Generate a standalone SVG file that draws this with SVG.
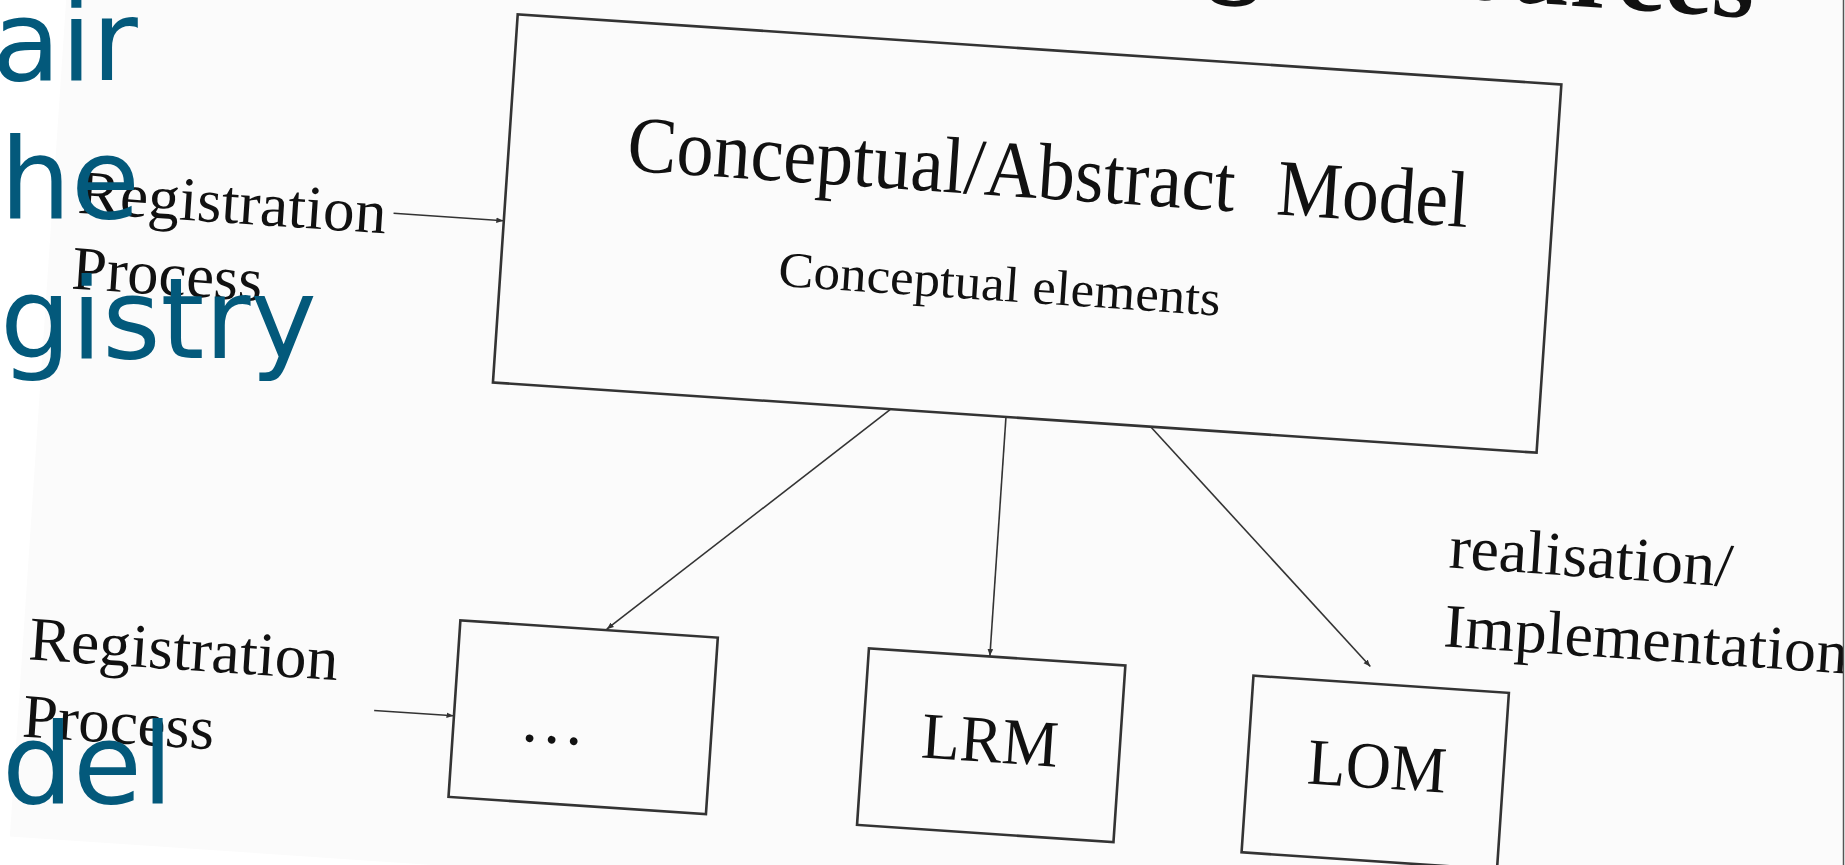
<svg xmlns="http://www.w3.org/2000/svg" width="1845" height="865" viewBox="0 0 1845 865">
  <defs>
    <style>
      .serif { font-family: "Liberation Serif", "Times New Roman", serif; fill: #111; }
      .box { fill: none; stroke: #333; stroke-width: 2.6; }
      .link { fill: none; stroke: #333; stroke-width: 1.6; }
      .overlay { font-family: "DejaVu Sans", "Open Sans", sans-serif; font-size: 112px; fill: #03597b; }
    </style>
    <marker id="arrow" viewBox="0 0 10 10" refX="10" refY="5" markerWidth="7" markerHeight="7" markerUnits="userSpaceOnUse" orient="auto">
      <path d="M0,1 L10,5 L0,9 z" fill="#333"/>
    </marker>
    <clipPath id="page">
      <rect x="0" y="0" width="1843" height="865"/>
    </clipPath>
  </defs>

  <rect x="0" y="0" width="1845" height="865" fill="#ffffff"/>

  <g clip-path="url(#page)">
    <g transform="rotate(3.85)">
      <!-- scanned sheet -->
      <rect x="66" y="-300" width="2000" height="1134" fill="#fbfbfb"/>

      <!-- slide heading, mostly above the visible area -->
      <text class="serif" x="1750" y="-100" font-size="108" font-weight="bold" text-anchor="end">Learning Resources</text>

      <g id="connectors">
        <line class="link" x1="407" y1="186.4" x2="517" y2="186.4" marker-end="url(#arrow)"/>
        <line class="link" x1="421" y1="683.7" x2="500.5" y2="683.7" marker-end="url(#arrow)"/>
        <line class="link" x1="915.6" y1="349" x2="647.6" y2="587" marker-end="url(#arrow)"/>
        <line class="link" x1="1031.7" y1="349" x2="1031.7" y2="588" marker-end="url(#arrow)"/>
        <line class="link" x1="1177.2" y1="349" x2="1412" y2="573" marker-end="url(#arrow)"/>
      </g>

      <g id="conceptual-model">
        <rect class="box" x="517.5" y="-20.5" width="1046" height="369"/>
        <text class="serif" font-size="80" y="128">
          <tspan x="636" textLength="609" lengthAdjust="spacingAndGlyphs">Conceptual/Abstract</tspan>
          <tspan x="1287" textLength="192" lengthAdjust="spacingAndGlyphs">Model</tspan>
        </text>
        <text class="serif" font-size="50" x="795" y="233" textLength="443" lengthAdjust="spacingAndGlyphs">Conceptual elements</text>
      </g>

      <g id="registration-top">
        <text class="serif" font-size="62">
          <tspan x="91" y="207" textLength="309" lengthAdjust="spacingAndGlyphs">Registration</tspan>
          <tspan x="90" y="283" textLength="191" lengthAdjust="spacingAndGlyphs">Process</tspan>
        </text>
      </g>

      <g id="registration-bottom">
        <text class="serif" font-size="62">
          <tspan x="72" y="656" textLength="310" lengthAdjust="spacingAndGlyphs">Registration</tspan>
          <tspan x="71" y="733.5" textLength="192" lengthAdjust="spacingAndGlyphs">Process</tspan>
        </text>
      </g>

      <g id="other-model">
        <rect class="box" x="501" y="588" width="258" height="177"/>
        <text class="serif" font-size="66" x="600" y="704" text-anchor="middle">…</text>
      </g>

      <g id="lrm">
        <rect class="box" x="910.5" y="588.5" width="257" height="177"/>
        <text class="serif" font-size="66" x="969" y="694" textLength="137" lengthAdjust="spacingAndGlyphs">LRM</text>
      </g>

      <g id="lom">
        <rect class="box" x="1296" y="590" width="256" height="177"/>
        <text class="serif" font-size="66" x="1356" y="694" textLength="139" lengthAdjust="spacingAndGlyphs">LOM</text>
      </g>

      <g id="realisation-label">
        <text class="serif" font-size="62">
          <tspan x="1483" y="469" textLength="284" lengthAdjust="spacingAndGlyphs">realisation/</tspan>
          <tspan x="1483" y="548" textLength="405" lengthAdjust="spacingAndGlyphs">Implementation</tspan>
        </text>
      </g>
    </g>
  </g>

  <!-- right border of the sheet -->
  <line x1="1843.5" y1="0" x2="1843.5" y2="865" stroke="#555" stroke-width="1.5"/>

  <!-- overlaid heading fragments -->
  <g id="overlay-text" class="overlay">
    <text x="-8" y="80">air</text>
    <text x="0" y="218">he</text>
    <text x="0" y="358">gistry</text>
    <text x="2" y="803">del</text>
  </g>
</svg>
